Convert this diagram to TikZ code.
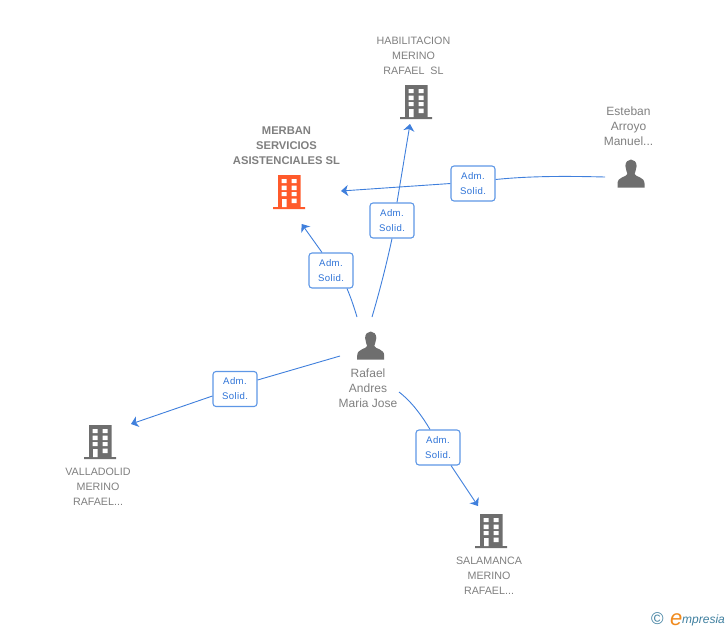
\documentclass[tikz,border=0pt]{standalone}
\usepackage{fontspec}
\setmainfont{Liberation Sans}
\newfontfamily\labfont[LetterSpace=4]{Liberation Sans}
\usetikzlibrary{arrows.meta}
\definecolor{edgeblue}{HTML}{3F7FDC}
\definecolor{boxblue}{HTML}{5E97E6}
\definecolor{labblue}{HTML}{2F74D8}
\definecolor{icongrey}{HTML}{6E6E6E}
\definecolor{txtgrey}{HTML}{7F7F7F}
\definecolor{hot}{HTML}{FF5A2B}
\definecolor{logoblue}{HTML}{3F7F9F}
\definecolor{logoorange}{HTML}{F08A1D}
\tikzset{
  x=1pt,y=-1pt,
  edgeline/.style={draw=edgeblue,line width=0.9pt},
  arrowline/.style={edgeline,-{Stealth[length=7pt,width=11pt,inset=2pt]}},
  rolebox/.style={draw=boxblue,line width=1.1pt,rounded corners=3pt,fill=white,
    minimum width=44pt,minimum height=35pt,inner sep=0pt,align=center,
    text=labblue,font=\labfont\fontsize{9.6}{15}\selectfont},
  caption/.style={align=center,text=txtgrey,inner sep=0pt,font=\fontsize{10.7}{15}\selectfont},
  pcaption/.style={caption,font=\fontsize{12}{15}\selectfont},
  bcaption/.style={caption,font=\bfseries\fontsize{11.2}{15}\selectfont},
  building/.pic={
    \fill[pic actions] (-11,-17) rectangle (11.5,15) (-16,15) rectangle (16,17);
    \fill[white] (-7.5,-13) rectangle (-2.5,-9) (2.5,-13) rectangle (7.5,-9)
      (-7.5,-6.5) rectangle (-2.5,-2) (2.5,-6.5) rectangle (7.5,-2)
      (-7.5,0) rectangle (-2.5,4) (2.5,0) rectangle (7.5,4)
      (2.5,6.5) rectangle (7.5,11) (-7,7) rectangle (-2.5,15);
  },
  person/.pic={
    \fill[pic actions] (-5.6,-21.5) .. controls (-5.6,-25.5) and (-3,-28) .. (0,-28)
      .. controls (3,-28) and (5.6,-25.5) .. (5.6,-21.5)
      .. controls (5.6,-18) and (3.8,-15.5) .. (3.6,-13.5)
      .. controls (4,-10.5) and (13.5,-11) .. (13.5,-4)
      -- (13.5,0) -- (-13.5,0) -- (-13.5,-4)
      .. controls (-13.5,-11) and (-4,-10.5) .. (-3.6,-13.5)
      .. controls (-3.8,-15.5) and (-5.6,-18) .. (-5.6,-21.5) -- cycle;
  }
}
\begin{document}
\begin{tikzpicture}
\useasboundingbox (0,0) rectangle (728,630);
% icons
\pic[fill=hot] at (289,192) {building};
\pic[fill=icongrey] at (416,102) {building};
\pic[fill=icongrey] at (100,442) {building};
\pic[fill=icongrey] at (491,531) {building};
\pic[fill=icongrey] at (370.7,359.5) {person};
\pic[fill=icongrey] at (631,187.5) {person};
% captions
\node[bcaption] (merban) at (286.5,145.5) {MERBAN\\SERVICIOS\\ASISTENCIALES SL};
\node[caption] (habil) at (413.5,56) {HABILITACION\\MERINO\\RAFAEL\ \ SL};
\node[pcaption] (esteban) at (628.5,126) {Esteban\\Arroyo\\Manuel...};
\node[pcaption] (rafael) at (368,388) {Rafael\\Andres\\Maria Jose};
\node[caption] (valla) at (98,486.5) {VALLADOLID\\MERINO\\RAFAEL...};
\node[caption] (salam) at (489,575.5) {SALAMANCA\\MERINO\\RAFAEL...};
% connector ends
\coordinate (r1) at (357,317);
\coordinate (r2) at (372,317);
\coordinate (r3) at (340,356);
\coordinate (r4) at (399,392);
\coordinate (e1) at (605,177);
\coordinate (tm1) at (301.7,224);
\coordinate (th) at (410,124);
\coordinate (tm2) at (341,191);
\coordinate (tv) at (131,424);
\coordinate (ts) at (478,506);
% role boxes
\node[rolebox] (b1) at (331,270.5) {Adm.\\Solid.};
\node[rolebox] (b2) at (392,220.5) {Adm.\\Solid.};
\node[rolebox] (b3) at (473,183.5) {Adm.\\Solid.};
\node[rolebox] (b4) at (235,389) {Adm.\\Solid.};
\node[rolebox] (b5) at (438,447.5) {Adm.\\Solid.};
% connectors
\draw[edgeline] (r1) .. controls (354,307) and (351,298) .. ([xshift=16pt]b1.south);
\draw[arrowline] ([xshift=-9pt]b1.north) -- (tm1);
\draw[edgeline] (r2) .. controls (380,290) and (387,262) .. (b2.south);
\draw[arrowline] ([xshift=5pt]b2.north) -- (th);
\draw[edgeline] (e1) .. controls (565,176) and (530,176) .. ([yshift=4pt]b3.east);
\draw[arrowline] (b3.west) -- (tm2);
\draw[edgeline] (r3) -- ([yshift=9pt]b4.east);
\draw[arrowline] ([yshift=-7pt]b4.west) -- (tv);
\draw[edgeline] (r4) .. controls (412,402) and (422,416) .. ([xshift=-8pt]b5.north);
\draw[arrowline] ([xshift=13pt]b5.south) -- (ts);
% logo
\node[inner sep=0pt,text=logoblue,font=\fontsize{17}{17}\selectfont] (copy) at (657.5,619) {©};
\node[inner sep=0pt,anchor=base west,text=logoorange,font=\fontsize{22}{22}\selectfont\itshape] (loge) at (670,625) {e};
\node[inner sep=0pt,anchor=base west,text=logoblue,font=\fontsize{12}{12}\selectfont\itshape] (logt) at (682,623) {mpresia};
\end{tikzpicture}
\end{document}
